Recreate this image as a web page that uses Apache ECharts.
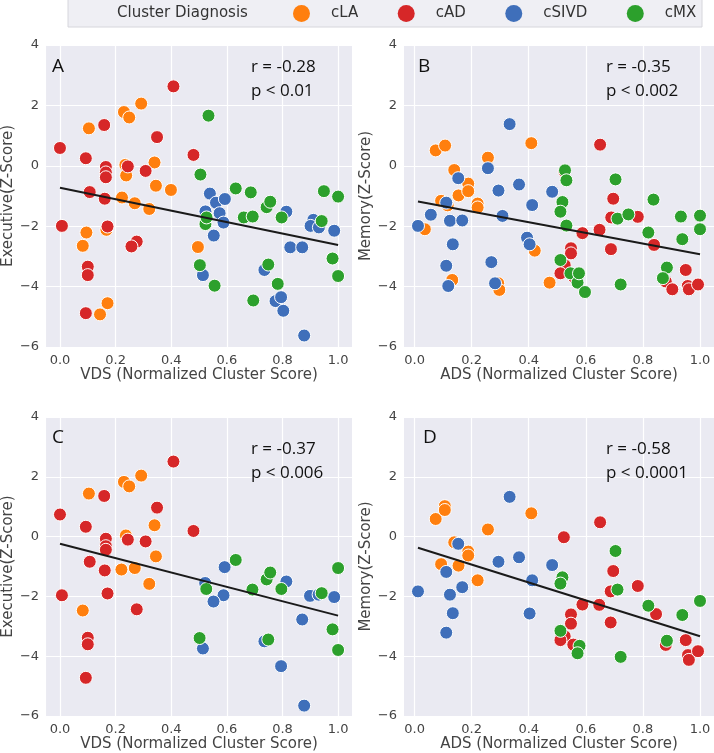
<!DOCTYPE html>
<html><head><meta charset="utf-8">
<script src="https://cdn.jsdelivr.net/npm/echarts@6/dist/echarts.min.js"></script>
<style>html,body{margin:0;padding:0;background:#fff}#c{width:714px;height:753px}</style>
</head><body><div id="c"></div>
<script>
// ---- data ----
var clusters = ['cLA', 'cAD', 'cSIVD', 'cMX'];
var xTicks = [0, 0.2, 0.4, 0.6, 0.8, 1.0];
var yTicks = [-6, -4, -2, 0, 2, 4];
var panelLetters = ['A', 'B', 'C', 'D'];
var panelR = ['r = -0.28', 'r = -0.35', 'r = -0.37', 'r = -0.58'];
var panelP = ['p < 0.01', 'p < 0.002', 'p < 0.006', 'p < 0.0001'];
var xNames = ['VDS (Normalized Cluster Score)', 'ADS (Normalized Cluster Score)', 'VDS (Normalized Cluster Score)', 'ADS (Normalized Cluster Score)'];
var yNames = ['Executive(Z-Score)', 'Memory(Z-Score)', 'Executive(Z-Score)', 'Memory(Z-Score)'];

// Panel A
var A_cLA = [[0.104,1.24],[0.230,1.78],[0.249,1.60],[0.292,2.06],[0.235,0.03],[0.238,-0.32],[0.223,-1.05],[0.269,-1.24],[0.321,-1.43],[0.340,0.11],[0.345,-0.66],[0.399,-0.80],[0.095,-2.21],[0.082,-2.65],[0.167,-2.12],[0.171,-4.55],[0.144,-4.92],[0.496,-2.69]];
var A_cAD = [[0.0,0.59],[0.007,-1.99],[0.093,0.25],[0.107,-0.87],[0.10,-3.34],[0.10,-3.62],[0.093,-4.88],[0.159,1.35],[0.165,-0.04],[0.165,-0.22],[0.165,-0.38],[0.161,-1.09],[0.171,-2.01],[0.244,-0.02],[0.276,-2.51],[0.257,-2.67],[0.308,-0.17],[0.349,0.95],[0.408,2.63],[0.480,0.36]];
var A_cSIVD = [[0.539,-0.92],[0.561,-1.22],[0.593,-1.10],[0.523,-1.51],[0.574,-1.57],[0.588,-1.88],[0.553,-2.31],[0.514,-3.62],[0.735,-3.45],[0.775,-4.48],[0.795,-4.35],[0.803,-4.80],[0.814,-1.52],[0.828,-2.70],[0.871,-2.70],[0.878,-5.62],[0.911,-1.79],[0.901,-1.99],[0.931,-2.04],[0.986,-2.15]];
var A_cMX = [[0.534,1.66],[0.505,-0.29],[0.523,-1.93],[0.527,-1.71],[0.503,-3.29],[0.556,-3.97],[0.632,-0.75],[0.661,-1.71],[0.693,-1.68],[0.686,-0.88],[0.743,-1.37],[0.756,-1.19],[0.749,-3.27],[0.695,-4.46],[0.783,-3.91],[0.797,-1.71],[0.941,-1.83],[0.949,-0.84],[1.0,-1.02],[0.980,-3.07],[1.0,-3.65]];
var A_fit = [[0.0,-0.73],[1.0,-2.62]];

// Panel B
var B_cLA = [[0.074,0.51],[0.107,0.67],[0.139,-0.14],[0.154,-0.98],[0.093,-1.16],[0.116,-1.31],[0.188,-0.59],[0.188,-0.84],[0.221,-1.25],[0.221,-1.38],[0.257,0.27],[0.036,-2.10],[0.132,-3.78],[0.293,-3.89],[0.297,-4.11],[0.409,0.75],[0.421,-2.81],[0.473,-3.87]];
var B_cAD = [[0.525,-0.19],[0.650,0.70],[0.696,-1.09],[0.689,-1.71],[0.782,-1.69],[0.588,-2.23],[0.648,-2.12],[0.688,-2.76],[0.548,-2.73],[0.548,-2.90],[0.526,-3.29],[0.511,-3.56],[0.557,-3.67],[0.839,-2.62],[0.880,-3.83],[0.903,-4.09],[0.950,-3.45],[0.957,-3.98],[0.961,-4.09],[0.993,-3.93]];
var B_cSIVD = [[0.012,-1.99],[0.057,-1.62],[0.111,-1.22],[0.124,-1.82],[0.134,-2.60],[0.111,-3.31],[0.118,-3.98],[0.153,-0.41],[0.167,-1.81],[0.257,-0.08],[0.294,-0.82],[0.308,-1.66],[0.269,-3.19],[0.282,-3.89],[0.333,1.38],[0.366,-0.62],[0.394,-2.38],[0.403,-2.60],[0.412,-1.30],[0.482,-0.86]];
var B_cMX = [[0.527,-0.15],[0.532,-0.48],[0.518,-1.20],[0.511,-1.52],[0.532,-1.98],[0.704,-0.45],[0.711,-1.75],[0.749,-1.61],[0.837,-1.12],[0.819,-2.21],[0.511,-3.12],[0.546,-3.56],[0.571,-3.87],[0.576,-3.56],[0.597,-4.18],[0.722,-3.93],[0.884,-3.37],[0.870,-3.72],[0.933,-1.68],[0.938,-2.43],[1.0,-1.65],[1.0,-2.10]];
var B_fit = [[0.012,-1.18],[1.0,-2.93]];

// Panel C
var C_cLA = [[0.104,1.44],[0.230,1.83],[0.249,1.68],[0.292,2.04],[0.237,0.04],[0.221,-1.10],[0.269,-1.05],[0.321,-1.58],[0.340,0.38],[0.345,-0.66],[0.082,-2.47]];
var C_cAD = [[0.0,0.74],[0.007,-1.96],[0.093,0.33],[0.107,-0.84],[0.10,-3.38],[0.10,-3.60],[0.093,-4.72],[0.159,1.36],[0.165,-0.07],[0.165,-0.32],[0.165,-0.44],[0.161,-1.13],[0.171,-1.90],[0.244,-0.10],[0.276,-2.43],[0.308,-0.16],[0.349,0.97],[0.408,2.51],[0.480,0.19]];
var C_cSIVD = [[0.522,-1.55],[0.592,-1.02],[0.588,-1.96],[0.552,-2.17],[0.514,-3.74],[0.735,-3.50],[0.795,-4.33],[0.814,-1.50],[0.871,-2.77],[0.878,-5.65],[0.899,-1.98],[0.930,-1.94],[0.986,-2.02]];
var C_cMX = [[0.526,-1.75],[0.502,-3.39],[0.632,-0.78],[0.692,-1.77],[0.743,-1.43],[0.756,-1.20],[0.796,-1.75],[0.749,-3.44],[0.941,-1.89],[1.0,-1.05],[0.980,-3.10],[1.0,-3.79]];
var C_fit = [[0.0,-0.24],[1.0,-2.64]];

// Panel D
var D_cLA = [[0.074,0.59],[0.106,1.02],[0.106,0.89],[0.139,-0.19],[0.093,-0.92],[0.154,-0.97],[0.188,-0.50],[0.188,-0.63],[0.221,-1.46],[0.257,0.24],[0.409,0.78]];
var D_cAD = [[0.523,-0.02],[0.650,0.48],[0.696,-1.15],[0.687,-1.83],[0.782,-1.65],[0.588,-2.27],[0.647,-2.28],[0.687,-2.87],[0.548,-2.60],[0.548,-2.91],[0.526,-3.33],[0.511,-3.46],[0.556,-3.61],[0.846,-2.59],[0.880,-3.62],[0.950,-3.46],[0.958,-3.96],[0.961,-4.12],[0.993,-3.83]];
var D_cSIVD = [[0.012,-1.83],[0.111,-1.18],[0.124,-1.94],[0.134,-2.56],[0.111,-3.21],[0.153,-0.24],[0.167,-1.69],[0.294,-0.84],[0.333,1.33],[0.366,-0.69],[0.403,-2.57],[0.412,-1.46],[0.482,-0.95]];
var D_cMX = [[0.518,-1.36],[0.511,-1.57],[0.704,-0.48],[0.711,-1.77],[0.819,-2.31],[0.938,-2.62],[1.0,-2.15],[0.511,-3.15],[0.578,-3.65],[0.571,-3.90],[0.722,-4.02],[0.884,-3.48]];
var D_fit = [[0.012,-0.37],[1.0,-3.33]];

// ---- build chart ----
var panelData = [
  [A_cLA, A_cAD, A_cSIVD, A_cMX, A_fit],
  [B_cLA, B_cAD, B_cSIVD, B_cMX, B_fit],
  [C_cLA, C_cAD, C_cSIVD, C_cMX, C_fit],
  [D_cLA, D_cAD, D_cSIVD, D_cMX, D_fit]
];
var colors = ['#ff7f0e', '#d62728', '#3f6fba', '#2ca02c'];
var grids = [
  {left: 43, top: 45, width: 309, height: 302},
  {left: 404, top: 45, width: 310, height: 302},
  {left: 43, top: 417, width: 309, height: 301},
  {left: 404, top: 417, width: 310, height: 301}
];
var xRanges = [[-0.05, 1.05], [-0.037, 1.049], [-0.05, 1.05], [-0.037, 1.049]];
var tickFont = {fontFamily: 'DejaVu Sans', fontSize: 13, color: '#444'};
var minus = function (v) { return (v < 0 ? '\u2212' : '') + Math.abs(v); };

var option = {
  animation: false,
  backgroundColor: '#fff',
  color: colors,
  legend: {
    data: clusters.map(function (n, i) { return {name: n, itemStyle: {color: colors[i], borderWidth: 0}}; }),
    icon: 'circle', left: 293, top: 5, padding: 0, itemWidth: 17, itemHeight: 17, itemGap: 39.5,
    textStyle: {fontFamily: 'DejaVu Sans', fontSize: 15, color: '#333', padding: [0, 0, 0, 16]}
  },
  grid: [], xAxis: [], yAxis: [], series: [], graphic: []
};

grids.forEach(function (g, i) {
  option.grid.push({left: g.left, top: g.top, width: g.width, height: g.height, show: true,
    backgroundColor: '#eaeaf2', borderWidth: 0, containLabel: false});
  option.xAxis.push({
    type: 'value', gridIndex: i, min: xRanges[i][0], max: xRanges[i][1],
    name: xNames[i], nameLocation: 'middle', nameGap: 18,
    nameTextStyle: {fontFamily: 'DejaVu Sans', fontSize: 15, color: '#444'},
    axisLine: {show: false}, axisTick: {show: false, customValues: xTicks},
    axisLabel: Object.assign({customValues: xTicks, margin: 7, formatter: function (v) { return v.toFixed(1); }}, tickFont),
    splitLine: {show: true, lineStyle: {color: '#fff', width: 1.2}}
  });
  option.yAxis.push({
    type: 'value', gridIndex: i, min: -6, max: 4, interval: 2,
    name: yNames[i], nameLocation: 'middle', nameGap: 27,
    nameTextStyle: {fontFamily: 'DejaVu Sans', fontSize: 15, color: '#444'},
    axisLine: {show: false}, axisTick: {show: false},
    axisLabel: Object.assign({margin: 7, formatter: minus}, tickFont),
    splitLine: {show: true, lineStyle: {color: '#fff', width: 1.2}}
  });
  var pd = panelData[i];
  clusters.forEach(function (c, k) {
    option.series.push({
      type: 'scatter', name: c, xAxisIndex: i, yAxisIndex: i, data: pd[k],
      symbolSize: 13, z: 3,
      itemStyle: {color: colors[k], borderColor: '#fff', borderWidth: 1, opacity: 1}
    });
  });
  option.series.push({
    type: 'line', name: 'fit' + i, xAxisIndex: i, yAxisIndex: i, data: pd[4],
    showSymbol: false, symbol: 'none', z: 4, silent: true,
    lineStyle: {color: '#1a1a1a', width: 2}
  });
});

// annotations
var letterPos = [[52, 67], [418, 67], [52, 438], [423, 438]];
var statPos = [[251, 67, 91], [606, 67, 91], [251, 449, 473], [606, 449, 473]];
var annFont = 'Open Sans';
option.graphic.push({type: 'rect', shape: {x: 68, y: -4, width: 634, height: 31},
  style: {fill: '#efeff4', stroke: '#d6d6dc', lineWidth: 1}, z: -1});
option.graphic.push({type: 'text', x: 117, y: 13.5,
  style: {text: 'Cluster Diagnosis', font: '15px "DejaVu Sans"', fill: '#333', verticalAlign: 'middle'}});
for (var i = 0; i < 4; i++) {
  option.graphic.push({type: 'text', x: letterPos[i][0], y: letterPos[i][1], z: 10,
    style: {text: panelLetters[i], font: '19px "' + annFont + '"', fill: '#111', verticalAlign: 'middle'}});
  option.graphic.push({type: 'text', x: statPos[i][0], y: statPos[i][1], z: 10,
    style: {text: panelR[i], font: '17px "' + annFont + '"', fill: '#111', verticalAlign: 'middle'}});
  option.graphic.push({type: 'text', x: statPos[i][0], y: statPos[i][2], z: 10,
    style: {text: panelP[i], font: '17px "' + annFont + '"', fill: '#111', verticalAlign: 'middle'}});
}

var chart = echarts.init(document.getElementById('c'), null, {renderer: 'canvas'});
chart.setOption(option);
</script></body></html>
